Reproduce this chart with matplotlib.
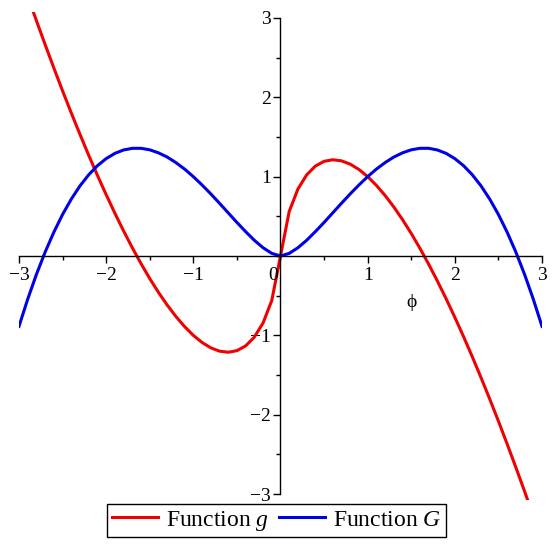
import matplotlib
matplotlib.use("Agg")
import matplotlib.pyplot as plt
import numpy as np
from matplotlib.ticker import MultipleLocator, FuncFormatter

plt.rcParams['font.family'] = ['Liberation Serif', 'DejaVu Serif']
plt.rcParams['mathtext.fontset'] = 'custom'
plt.rcParams['mathtext.rm'] = 'Liberation Serif'
plt.rcParams['mathtext.it'] = 'Liberation Serif:italic'

# sample points on the phi axis, step 0.1
phi = np.arange(-30, 31) / 10.0

# (Function g), odd about the origin
g_pos = [0.561, 0.844, 1.022, 1.133, 1.193, 1.213, 1.199, 1.157, 1.090, 1.000,
         0.890, 0.762, 0.618, 0.458, 0.284, 0.096, -0.104, -0.316, -0.539, -0.773,
         -1.016, -1.269, -1.532, -1.802, -2.081, -2.369, -2.664, -2.966, -3.275, -3.592]
g_vals = [3.592, 3.275, 2.966, 2.664, 2.369, 2.081, 1.802, 1.532, 1.269, 1.016,
          0.773, 0.539, 0.316, 0.104, -0.096, -0.284, -0.458, -0.618, -0.762, -0.890,
          -1.000, -1.090, -1.157, -1.199, -1.213, -1.193, -1.133, -1.022, -0.844, -0.561,
          0.0] + g_pos

# blue curve (Function G), even
G_pos = [0.033, 0.104, 0.198, 0.307, 0.423, 0.544, 0.665, 0.783, 0.895, 1.000,
         1.095, 1.177, 1.247, 1.300, 1.338, 1.357, 1.357, 1.336, 1.293, 1.227,
         1.138, 1.024, 0.884, 0.717, 0.523, 0.300, 0.049, -0.232, -0.544, -0.887]
G_vals = [-0.887, -0.544, -0.232, 0.049, 0.300, 0.523, 0.717, 0.884, 1.024, 1.138,
          1.227, 1.293, 1.336, 1.357, 1.357, 1.338, 1.300, 1.247, 1.177, 1.095,
          1.000, 0.895, 0.783, 0.665, 0.544, 0.423, 0.307, 0.198, 0.104, 0.033,
          0.0] + G_pos

fig = plt.figure(figsize=(5.55, 5.55), dpi=100)
ax = fig.add_axes([0.0342, 0.0998, 0.9424, 0.8779])

l1, = ax.plot(phi, g_vals, color='#f00000', lw=2.2, label='Function $g$')
l2, = ax.plot(phi, G_vals, color='#0000e6', lw=2.2, label='Function $G$')

ax.set_xlim(-3, 3)
ax.set_ylim(-3.07, 3.07)

# axes through the origin
ax.spines['left'].set_position(('data', 0))
ax.spines['bottom'].set_position(('data', 0))
ax.spines['top'].set_visible(False)
ax.spines['right'].set_visible(False)
ax.spines['left'].set_bounds(-3, 3)
ax.spines['bottom'].set_bounds(-3, 3)
for s in ['left', 'bottom']:
    ax.spines[s].set_linewidth(1.0)

ax.set_xticks([-3, -2, -1, 1, 2, 3])
ax.set_yticks([-3, -2, -1, 1, 2, 3])
ax.xaxis.set_minor_locator(MultipleLocator(0.5))
ax.yaxis.set_minor_locator(MultipleLocator(0.5))
fmt = FuncFormatter(lambda v, p: ('\u2212%d' % abs(v)) if v < 0 else '%d' % v)
ax.xaxis.set_major_formatter(fmt)
ax.yaxis.set_major_formatter(fmt)
ax.tick_params(which='major', direction='out', length=5, width=1.0, labelsize=14, pad=2)
ax.tick_params(axis='x', which='major', pad=3)
ax.tick_params(which='minor', direction='out', length=3, width=1.0)

# the zero label sits just left of the vertical axis
ax.text(0, 0, '0', fontsize=14, ha='right', va='top',
        transform=ax.transData + matplotlib.transforms.ScaledTranslation(-1.5/72, -8/72, fig.dpi_scale_trans))

ax.text(1.5, -0.58, '\u03d5', fontsize=14, ha='center', va='center')

leg = fig.legend(handles=[l1, l2], loc='center', bbox_to_anchor=(0.498, 0.062), ncol=2,
                 fontsize=17, fancybox=False, edgecolor='black', framealpha=1,
                 handlelength=1.95, handletextpad=0.34, columnspacing=0.42, borderpad=0.2,
                 borderaxespad=0)
leg.get_frame().set_linewidth(1.0)

fig.savefig('out.png', dpi=100)
